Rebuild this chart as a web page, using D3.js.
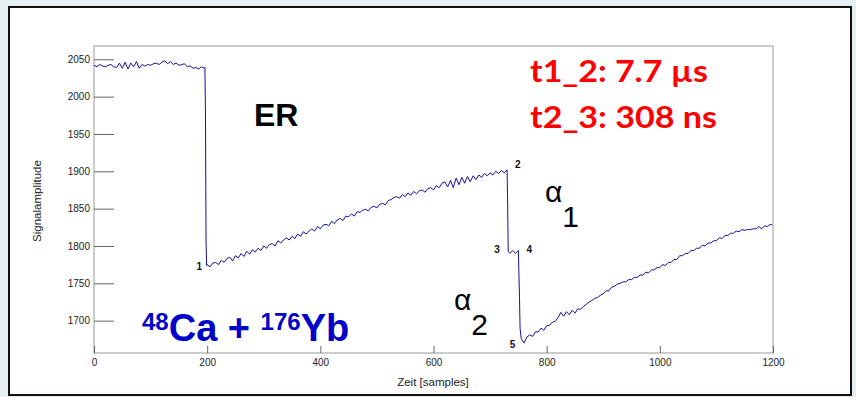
<!DOCTYPE html>
<html>
<head>
<meta charset="utf-8">
<script src="https://cdn.jsdelivr.net/npm/d3@7"></script>
<style>
  body { margin: 0; background: #e5eff2; }
  svg { display: block; }
</style>
</head>
<body>
<svg id="chart" width="856" height="397"></svg>
<script>
// axis ticks
var xMajor = [0, 200, 400, 600, 800, 1000, 1200];
var yMajor = [1700, 1750, 1800, 1850, 1900, 1950, 2000, 2050];

// trace pieces (sample step 5 inside each piece)
var seg1Start = 0;
var seg1 = [2042, 2040, 2043, 2041, 2040, 2042, 2043, 2040, 2039, 2045,
            2038, 2046, 2037, 2045, 2040, 2047, 2038, 2043, 2041, 2043,
            2042, 2044, 2045, 2043, 2046, 2048, 2044, 2047, 2043, 2045,
            2042, 2043, 2044, 2040, 2041, 2038, 2039, 2037, 2040, 2038];
var drop1 = [[196, 2039], [197, 1978], [198, 1808], [199, 1774]];
var seg2Start = 200;
var seg2 = [1775, 1772, 1777, 1778, 1775, 1781, 1778, 1783, 1785, 1780,
            1787, 1784, 1790, 1786, 1793, 1789, 1795, 1792, 1797, 1794,
            1800, 1797, 1802, 1803, 1800, 1807, 1804, 1808, 1811, 1808,
            1813, 1810, 1816, 1813, 1819, 1816, 1820, 1823, 1820, 1826,
            1823, 1828, 1829, 1827, 1833, 1830, 1835, 1837, 1834, 1840,
            1839, 1843, 1840, 1846, 1845, 1848, 1849, 1847, 1852, 1853,
            1851, 1856, 1857, 1855, 1861, 1862, 1865, 1866, 1864, 1869,
            1866, 1871, 1868, 1873, 1870, 1874, 1875, 1872, 1877, 1878,
            1875, 1881, 1878, 1884, 1886, 1879, 1888, 1878, 1891, 1882,
            1892, 1884, 1893, 1886, 1894, 1889, 1895, 1892, 1897, 1894,
            1898, 1895, 1900, 1897, 1901, 1898, 1902];
var drop2 = [[731, 1862], [732, 1793], [735, 1790], [740, 1794], [745, 1790],
             [750, 1794], [752, 1731], [753, 1690]];
var seg3Start = 755;
var seg3 = [1676, 1670, 1678, 1681, 1679, 1685, 1685, 1690, 1687, 1693,
            1694, 1698, 1699, 1704, 1711, 1706, 1712, 1708, 1714, 1710,
            1716, 1715, 1719, 1722, 1725, 1727, 1730, 1731, 1734, 1736,
            1740, 1740, 1745, 1746, 1749, 1750, 1752, 1752, 1755, 1755,
            1758, 1758, 1761, 1761, 1765, 1764, 1768, 1768, 1771, 1771,
            1775, 1774, 1778, 1778, 1782, 1782, 1787, 1787, 1790, 1790,
            1794, 1794, 1797, 1797, 1801, 1800, 1804, 1804, 1807, 1807,
            1811, 1810, 1814, 1814, 1817, 1817, 1820, 1819, 1822, 1821,
            1822, 1822, 1823, 1823, 1826, 1823, 1827, 1826, 1829];
var endPoint = [1199, 1828];

// numbered points on the trace
var marks = [
  {t: "1", s: 199, v: 1774, dx: -10, dy: 5},
  {t: "2", s: 730, v: 1902, dx: 8, dy: -2},
  {t: "3", s: 732, v: 1793, dx: -14, dy: 2},
  {t: "4", s: 750, v: 1793, dx: 8, dy: 2},
  {t: "5", s: 756, v: 1672, dx: -12, dy: 6}
];

var svg = d3.select("#chart");

// white slide box
svg.append("rect").attr("x", 9).attr("y", 7).attr("width", 842).attr("height", 388)
  .attr("fill", "#fff").attr("stroke", "#111").attr("stroke-width", 2);

var fLeft = 94, fRight = 773, fTop = 46, fBottom = 353;
var x = d3.scaleLinear().domain([0, 1200]).range([fLeft, fRight]);
var y = d3.scaleLinear().domain([1656.7, 2067.8]).range([fBottom, fTop]);

function piece(start, vals) {
  return vals.map(function(v, i) { return [start + i * 5, v]; });
}
var trace = [].concat(piece(seg1Start, seg1), drop1, piece(seg2Start, seg2),
                      drop2, piece(seg3Start, seg3), [endPoint]);

// frame
svg.append("rect").attr("x", fLeft).attr("y", fTop)
  .attr("width", fRight - fLeft).attr("height", fBottom - fTop)
  .attr("fill", "none").attr("stroke", "#999").attr("stroke-width", 1);

// y axis, ticks pointing inward
var yMinor = d3.range(1660, 2061, 10).filter(function(d) { return d % 50 != 0; });
var gy = svg.append("g").attr("transform", "translate(" + fLeft + ",0)");
gy.call(d3.axisLeft(y).tickValues(yMinor).tickSize(-10).tickFormat(""));
gy.call(d3.axisLeft(y).tickValues(yMajor).tickSize(-20).tickPadding(4).tickFormat(d3.format("d")));

var gx = svg.append("g").attr("transform", "translate(0," + fBottom + ")");
gx.call(d3.axisBottom(x).tickValues(d3.range(0, 1201, 50)).tickSize(-4).tickFormat(""));
gx.call(d3.axisBottom(x).tickValues(xMajor).tickSize(-7).tickPadding(6).tickFormat(d3.format("d")));

svg.selectAll(".domain").remove();
svg.selectAll(".tick line").attr("stroke", "#666");
svg.selectAll(".tick text").attr("fill", "#222")
  .style("font-family", "Liberation Sans, Arial, sans-serif").style("font-size", "10px");

// axis titles
svg.append("text").attr("transform", "translate(41,201) rotate(-90)")
  .attr("text-anchor", "middle").style("font", "11.5px 'Liberation Sans', Arial, sans-serif")
  .attr("fill", "#222").text("Signalamplitude");
svg.append("text").attr("x", 433).attr("y", 386)
  .attr("text-anchor", "middle").style("font", "11.5px 'Liberation Sans', Arial, sans-serif")
  .attr("fill", "#222").text("Zeit [samples]");

// trace
svg.append("path").datum(trace)
  .attr("d", d3.line().x(function(d) { return x(d[0]); }).y(function(d) { return y(d[1]); }))
  .attr("fill", "none").attr("stroke", "#12129a").attr("stroke-width", 1);

// point numbers
svg.selectAll(".mk").data(marks).enter().append("text")
  .attr("x", function(d) { return x(d.s) + d.dx; })
  .attr("y", function(d) { return y(d.v) + d.dy; })
  .style("font", "bold 10px 'Liberation Sans', Arial, sans-serif")
  .attr("fill", "#111").text(function(d) { return d.t; });

// ER
svg.append("text").attr("x", 254).attr("y", 126)
  .style("font", "bold 32px 'Liberation Sans', Arial, sans-serif").attr("fill", "#000").text("ER");

// alpha labels
function alpha(ax, ay, sub) {
  var t = svg.append("text").attr("x", ax).attr("y", ay)
    .style("font", "30px 'Liberation Sans', Arial, sans-serif").attr("fill", "#000");
  t.append("tspan").text("\u03b1");
  t.append("tspan").attr("dy", 25).text(sub);
}
alpha(545, 202, "1");
alpha(454, 310, "2");

// reaction
var r = svg.append("text").attr("x", 142).attr("y", 341)
  .style("font", "bold 38px 'Liberation Sans', Arial, sans-serif").attr("fill", "#0000c8");
r.append("tspan").style("font-size", "24px").attr("dy", -11).text("48");
r.append("tspan").attr("dy", 11).text("Ca + ");
r.append("tspan").style("font-size", "24px").attr("dy", -11).text("176");
r.append("tspan").attr("dy", 11).text("Yb");

// timing text
var red = [["t1_2: 7.7 \u00b5s", 82, 178], ["t2_3: 308 ns", 128, 187]];
red.forEach(function(d) {
  svg.append("text").attr("x", 530).attr("y", d[1])
    .attr("textLength", d[2]).attr("lengthAdjust", "spacingAndGlyphs")
    .style("font", "bold 30px Lato, 'Open Sans', sans-serif").attr("fill", "#ff0000").text(d[0]);
});
</script>
</body>
</html>
